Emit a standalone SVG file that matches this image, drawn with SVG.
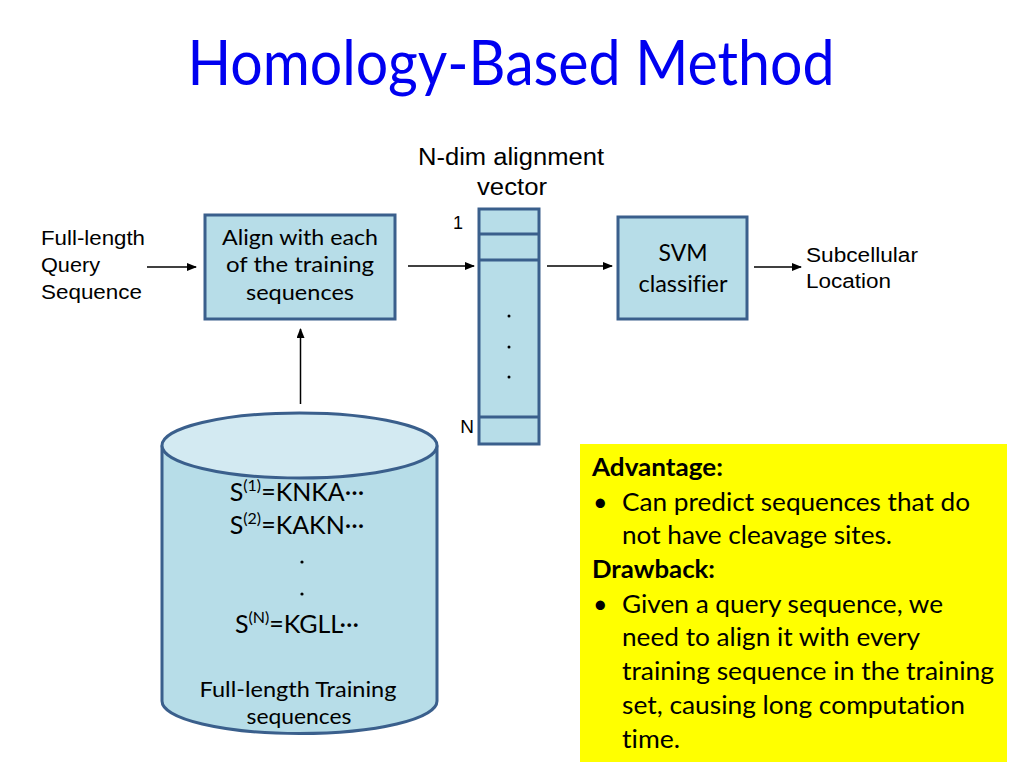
<svg xmlns="http://www.w3.org/2000/svg" width="1024" height="768" viewBox="0 0 1024 768">
<defs>
<marker id="ah" markerWidth="10" markerHeight="8" refX="9" refY="4" orient="auto" markerUnits="userSpaceOnUse">
<path d="M0,0 L10,4 L0,8 z" fill="#000"/>
</marker>
<style>
.box{fill:#B7DDE8;stroke:#3A5F8C;stroke-width:3}
.ar{font-family:"Liberation Sans",Arial,sans-serif;font-size:20px;fill:#000}
.cal{font-family:Lato,"Open Sans",sans-serif;fill:#000;font-variant-ligatures:none}
.conn{stroke:#000;stroke-width:1.5;fill:none;marker-end:url(#ah)}
</style>
</defs>
<rect width="1024" height="768" fill="#fff"/>
<text x="511" y="85" text-anchor="middle" class="cal" font-size="61" style="fill:#0000F0" textLength="647" lengthAdjust="spacingAndGlyphs">Homology-Based Method</text>

<g id="query-label">
<text class="ar" x="41" y="245" textLength="104" lengthAdjust="spacingAndGlyphs">Full-length</text>
<text class="ar" x="41" y="272" textLength="59" lengthAdjust="spacingAndGlyphs">Query</text>
<text class="ar" x="41" y="299" textLength="101" lengthAdjust="spacingAndGlyphs">Sequence</text>
</g>

<g id="align">
<rect class="box" x="205" y="215" width="190" height="104"/>
<text class="cal" font-size="22" x="300" y="245" text-anchor="middle" textLength="156" lengthAdjust="spacingAndGlyphs">Align with each</text>
<text class="cal" font-size="22" x="300" y="272" text-anchor="middle" textLength="148" lengthAdjust="spacingAndGlyphs">of the training</text>
<text class="cal" font-size="22" x="300" y="300" text-anchor="middle" textLength="108" lengthAdjust="spacingAndGlyphs">sequences</text>
</g>

<g id="vector">
<text class="ar" x="511" y="165" text-anchor="middle" style="font-size:23px" textLength="186" lengthAdjust="spacingAndGlyphs">N-dim alignment</text>
<text class="ar" x="512" y="195" text-anchor="middle" style="font-size:23px" textLength="70" lengthAdjust="spacingAndGlyphs">vector</text>
<rect class="box" x="479" y="209" width="60" height="235"/>
<line x1="479" y1="234" x2="539" y2="234" stroke="#3A5F8C" stroke-width="3"/>
<line x1="479" y1="260" x2="539" y2="260" stroke="#3A5F8C" stroke-width="3"/>
<line x1="479" y1="417" x2="539" y2="417" stroke="#3A5F8C" stroke-width="3"/>
<circle cx="509" cy="316" r="1.5" fill="#000"/>
<circle cx="509" cy="347" r="1.5" fill="#000"/>
<circle cx="509" cy="377" r="1.5" fill="#000"/>
<text class="ar" style="font-size:18px" x="463" y="229" text-anchor="end">1</text>
<text class="ar" style="font-size:19px" x="474" y="433" text-anchor="end">N</text>
</g>

<g id="svm">
<rect class="box" x="618" y="217" width="129" height="102"/>
<text class="cal" font-size="23" x="683" y="261" text-anchor="middle" textLength="49" lengthAdjust="spacingAndGlyphs">SVM</text>
<text class="cal" font-size="23" x="683" y="292" text-anchor="middle" textLength="89" lengthAdjust="spacingAndGlyphs">classifier</text>
</g>

<g id="output-label">
<text class="ar" x="806" y="262" textLength="112" lengthAdjust="spacingAndGlyphs">Subcellular</text>
<text class="ar" x="806" y="288" textLength="85" lengthAdjust="spacingAndGlyphs">Location</text>
</g>

<g id="database">
<path d="M162,445.5 L162,701 A137.5,32.5 0 0 0 437,701 L437,445.5" class="box"/>
<ellipse cx="299.5" cy="445.5" rx="137.5" ry="32.5" fill="#D3EAF2" stroke="#3A5F8C" stroke-width="3"/>
<text class="cal" font-size="25" x="297" y="501" text-anchor="middle">S<tspan font-size="16" dy="-10">(1)</tspan><tspan dy="10">=KNKA···</tspan></text>
<text class="cal" font-size="25" x="297" y="534" text-anchor="middle">S<tspan font-size="16" dy="-10">(2)</tspan><tspan dy="10">=KAKN···</tspan></text>
<circle cx="302" cy="562" r="1.6" fill="#000"/>
<circle cx="302" cy="594" r="1.6" fill="#000"/>
<text class="cal" font-size="25" x="297" y="633" text-anchor="middle">S<tspan font-size="16" dy="-10">(N)</tspan><tspan dy="10">=KGLL···</tspan></text>
<text class="cal" font-size="22" x="298" y="697" text-anchor="middle" textLength="197" lengthAdjust="spacingAndGlyphs">Full-length Training</text>
<text class="cal" font-size="22" x="299" y="724" text-anchor="middle" textLength="105" lengthAdjust="spacingAndGlyphs">sequences</text>
</g>

<g id="notes">
<rect x="580" y="444" width="427" height="318" fill="#FFFF00"/>
<text class="cal" font-size="25" font-weight="bold" x="592" y="476" textLength="131" lengthAdjust="spacingAndGlyphs">Advantage:</text>
<text class="cal" font-size="25" x="593" y="511">•</text>
<text class="cal" font-size="25" x="622" y="511" textLength="348" lengthAdjust="spacingAndGlyphs">Can predict sequences that do</text>
<text class="cal" font-size="25" x="622" y="544" textLength="270" lengthAdjust="spacingAndGlyphs">not have cleavage sites.</text>
<text class="cal" font-size="25" font-weight="bold" x="592" y="578" textLength="123" lengthAdjust="spacingAndGlyphs">Drawback:</text>
<text class="cal" font-size="25" x="593" y="613">•</text>
<text class="cal" font-size="25" x="622" y="613" textLength="321" lengthAdjust="spacingAndGlyphs">Given a query sequence, we</text>
<text class="cal" font-size="25" x="622" y="646" textLength="298" lengthAdjust="spacingAndGlyphs">need to align it with every</text>
<text class="cal" font-size="25" x="622" y="680" textLength="372" lengthAdjust="spacingAndGlyphs">training sequence in the training</text>
<text class="cal" font-size="25" x="622" y="714" textLength="343" lengthAdjust="spacingAndGlyphs">set, causing long computation</text>
<text class="cal" font-size="25" x="622" y="748" textLength="58" lengthAdjust="spacingAndGlyphs">time.</text>
</g>

<g id="connectors">
<line class="conn" x1="147" y1="267" x2="196" y2="267"/>
<line class="conn" x1="408" y1="266" x2="474" y2="266"/>
<line class="conn" x1="547" y1="266" x2="612" y2="266"/>
<line class="conn" x1="754" y1="267" x2="801" y2="267"/>
<line class="conn" x1="300.5" y1="404" x2="300.5" y2="329"/>
</g>
</svg>
